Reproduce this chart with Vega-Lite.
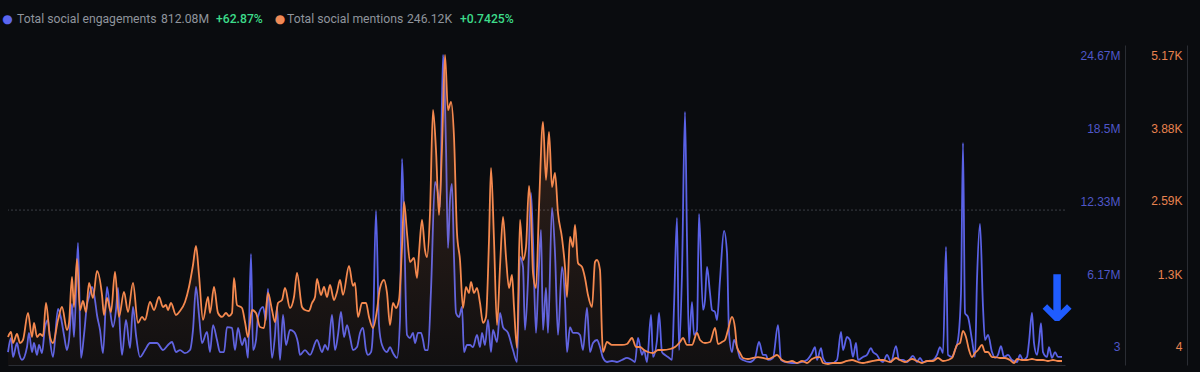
{
"$schema": "https://vega.github.io/schema/vega-lite/v6.json",
"width": 1057, "height": 320,
"autosize": "none",
"padding": {"left": 8, "top": 45, "right": 135, "bottom": 7},
"background": "#0a0c0f",
"config": {"view": {"stroke": null}, "font": "Liberation Sans"},
"datasets": {
"eng": [
{"day":0,"eng_m":1.03},{"day":3,"eng_m":2.15},{"day":5,"eng_m":0.64},{"day":9,"eng_m":1.75},{"day":11,"eng_m":0.95},{"day":14,"eng_m":0.40},{"day":19,"eng_m":1.43},{"day":21,"eng_m":2.55},{"day":24,"eng_m":1.03},{"day":26,"eng_m":1.75},{"day":29,"eng_m":0.80},{"day":31,"eng_m":1.59},{"day":34,"eng_m":0.95},{"day":37,"eng_m":3.02},{"day":40,"eng_m":3.58},{"day":42,"eng_m":1.99},{"day":45,"eng_m":0.64},{"day":50,"eng_m":4.46},{"day":53,"eng_m":3.74},{"day":56,"eng_m":2.39},{"day":59,"eng_m":1.19},{"day":61,"eng_m":1.99},{"day":64,"eng_m":4.86},{"day":66,"eng_m":2.23},{"day":70,"eng_m":9.71},{"day":73,"eng_m":0.56},{"day":76,"eng_m":2.39},{"day":79,"eng_m":4.78},{"day":81,"eng_m":5.41},{"day":84,"eng_m":6.21},{"day":87,"eng_m":5.17},{"day":89,"eng_m":3.98},{"day":92,"eng_m":2.79},{"day":95,"eng_m":0.95},{"day":99,"eng_m":6.21},{"day":102,"eng_m":4.38},{"day":105,"eng_m":3.02},{"day":108,"eng_m":4.38},{"day":110,"eng_m":6.13},{"day":112,"eng_m":2.79},{"day":114,"eng_m":0.80},{"day":118,"eng_m":3.58},{"day":122,"eng_m":1.35},{"day":125,"eng_m":4.62},{"day":128,"eng_m":2.39},{"day":132,"eng_m":0.64},{"day":137,"eng_m":1.19},{"day":142,"eng_m":1.75},{"day":149,"eng_m":1.75},{"day":155,"eng_m":1.19},{"day":160,"eng_m":1.59},{"day":164,"eng_m":1.83},{"day":168,"eng_m":1.03},{"day":172,"eng_m":1.19},{"day":177,"eng_m":0.95},{"day":182,"eng_m":1.19},{"day":185,"eng_m":2.79},{"day":188,"eng_m":6.21},{"day":191,"eng_m":3.98},{"day":194,"eng_m":1.75},{"day":199,"eng_m":2.63},{"day":202,"eng_m":1.03},{"day":205,"eng_m":3.18},{"day":209,"eng_m":1.99},{"day":212,"eng_m":1.03},{"day":216,"eng_m":1.03},{"day":219,"eng_m":3.02},{"day":224,"eng_m":2.95},{"day":227,"eng_m":1.19},{"day":230,"eng_m":2.95},{"day":234,"eng_m":1.59},{"day":237,"eng_m":2.15},{"day":240,"eng_m":0.56},{"day":243,"eng_m":8.84},{"day":245,"eng_m":1.19},{"day":248,"eng_m":1.99},{"day":250,"eng_m":3.82},{"day":255,"eng_m":4.62},{"day":258,"eng_m":3.58},{"day":260,"eng_m":6.05},{"day":264,"eng_m":0.56},{"day":267,"eng_m":2.39},{"day":269,"eng_m":4.62},{"day":272,"eng_m":0.40},{"day":275,"eng_m":3.98},{"day":278,"eng_m":1.59},{"day":282,"eng_m":2.79},{"day":286,"eng_m":2.63},{"day":290,"eng_m":1.75},{"day":292,"eng_m":0.80},{"day":297,"eng_m":1.19},{"day":302,"eng_m":0.80},{"day":309,"eng_m":1.99},{"day":314,"eng_m":1.03},{"day":317,"eng_m":1.59},{"day":320,"eng_m":1.19},{"day":324,"eng_m":3.98},{"day":327,"eng_m":1.19},{"day":330,"eng_m":2.39},{"day":333,"eng_m":4.22},{"day":336,"eng_m":2.23},{"day":339,"eng_m":3.18},{"day":342,"eng_m":2.23},{"day":345,"eng_m":1.19},{"day":349,"eng_m":1.43},{"day":352,"eng_m":2.55},{"day":355,"eng_m":2.95},{"day":358,"eng_m":1.19},{"day":360,"eng_m":0.80},{"day":363,"eng_m":1.03},{"day":365,"eng_m":2.79},{"day":368,"eng_m":12.26},{"day":371,"eng_m":3.18},{"day":374,"eng_m":1.59},{"day":379,"eng_m":1.03},{"day":382,"eng_m":1.43},{"day":385,"eng_m":0.95},{"day":389,"eng_m":0.56},{"day":392,"eng_m":3.58},{"day":394,"eng_m":16.40},{"day":396,"eng_m":11.54},{"day":399,"eng_m":2.39},{"day":402,"eng_m":2.15},{"day":405,"eng_m":2.55},{"day":407,"eng_m":1.75},{"day":410,"eng_m":2.55},{"day":413,"eng_m":2.55},{"day":415,"eng_m":1.99},{"day":417,"eng_m":1.19},{"day":420,"eng_m":1.19},{"day":423,"eng_m":5.97},{"day":427,"eng_m":14.57},{"day":430,"eng_m":13.69},{"day":432,"eng_m":12.58},{"day":435,"eng_m":24.67},{"day":438,"eng_m":17.35},{"day":440,"eng_m":9.31},{"day":442,"eng_m":13.13},{"day":444,"eng_m":14.41},{"day":446,"eng_m":8.60},{"day":448,"eng_m":4.14},{"day":451,"eng_m":3.82},{"day":454,"eng_m":4.62},{"day":456,"eng_m":1.03},{"day":459,"eng_m":1.59},{"day":462,"eng_m":1.59},{"day":465,"eng_m":1.43},{"day":469,"eng_m":2.39},{"day":472,"eng_m":1.43},{"day":474,"eng_m":2.55},{"day":477,"eng_m":1.59},{"day":480,"eng_m":3.58},{"day":483,"eng_m":1.03},{"day":485,"eng_m":2.79},{"day":489,"eng_m":1.83},{"day":492,"eng_m":4.14},{"day":495,"eng_m":3.02},{"day":500,"eng_m":2.55},{"day":505,"eng_m":1.19},{"day":509,"eng_m":0.24},{"day":512,"eng_m":8.60},{"day":515,"eng_m":7.80},{"day":517,"eng_m":2.79},{"day":520,"eng_m":6.77},{"day":523,"eng_m":13.69},{"day":525,"eng_m":9.95},{"day":528,"eng_m":2.55},{"day":530,"eng_m":5.97},{"day":533,"eng_m":10.75},{"day":535,"eng_m":2.79},{"day":538,"eng_m":6.13},{"day":540,"eng_m":2.55},{"day":544,"eng_m":12.50},{"day":547,"eng_m":8.92},{"day":550,"eng_m":2.39},{"day":554,"eng_m":7.80},{"day":557,"eng_m":5.17},{"day":559,"eng_m":1.03},{"day":562,"eng_m":3.02},{"day":565,"eng_m":2.55},{"day":569,"eng_m":2.55},{"day":572,"eng_m":2.39},{"day":575,"eng_m":1.19},{"day":579,"eng_m":4.54},{"day":582,"eng_m":1.03},{"day":585,"eng_m":1.75},{"day":589,"eng_m":1.99},{"day":592,"eng_m":1.43},{"day":595,"eng_m":0.56},{"day":599,"eng_m":0.24},{"day":604,"eng_m":0.32},{"day":609,"eng_m":0.24},{"day":614,"eng_m":0.40},{"day":619,"eng_m":0.56},{"day":624,"eng_m":0.40},{"day":627,"eng_m":0.24},{"day":630,"eng_m":2.15},{"day":634,"eng_m":0.80},{"day":636,"eng_m":1.19},{"day":639,"eng_m":0.24},{"day":643,"eng_m":3.98},{"day":645,"eng_m":0.64},{"day":649,"eng_m":1.99},{"day":651,"eng_m":4.14},{"day":654,"eng_m":1.03},{"day":657,"eng_m":0.80},{"day":660,"eng_m":0.64},{"day":664,"eng_m":0.40},{"day":666,"eng_m":4.62},{"day":669,"eng_m":11.70},{"day":671,"eng_m":1.19},{"day":674,"eng_m":7.32},{"day":677,"eng_m":20.14},{"day":679,"eng_m":9.95},{"day":681,"eng_m":1.75},{"day":684,"eng_m":5.01},{"day":686,"eng_m":2.39},{"day":689,"eng_m":2.79},{"day":691,"eng_m":12.02},{"day":695,"eng_m":4.38},{"day":697,"eng_m":5.17},{"day":699,"eng_m":7.80},{"day":702,"eng_m":5.73},{"day":704,"eng_m":4.38},{"day":707,"eng_m":4.22},{"day":709,"eng_m":3.58},{"day":712,"eng_m":6.77},{"day":716,"eng_m":10.67},{"day":719,"eng_m":8.92},{"day":721,"eng_m":2.55},{"day":724,"eng_m":1.03},{"day":726,"eng_m":1.99},{"day":729,"eng_m":1.43},{"day":732,"eng_m":0.56},{"day":735,"eng_m":0.40},{"day":742,"eng_m":0.24},{"day":747,"eng_m":0.56},{"day":751,"eng_m":1.83},{"day":755,"eng_m":0.80},{"day":758,"eng_m":0.80},{"day":760,"eng_m":0.40},{"day":765,"eng_m":0.56},{"day":770,"eng_m":3.18},{"day":773,"eng_m":0.40},{"day":777,"eng_m":0.24},{"day":784,"eng_m":0.16},{"day":789,"eng_m":0.16},{"day":794,"eng_m":0.24},{"day":799,"eng_m":0.40},{"day":804,"eng_m":0.95},{"day":807,"eng_m":1.43},{"day":809,"eng_m":0.40},{"day":813,"eng_m":1.35},{"day":815,"eng_m":0.56},{"day":819,"eng_m":0.16},{"day":824,"eng_m":0.16},{"day":829,"eng_m":0.40},{"day":833,"eng_m":2.63},{"day":835,"eng_m":1.19},{"day":839,"eng_m":2.23},{"day":842,"eng_m":1.99},{"day":845,"eng_m":0.64},{"day":848,"eng_m":1.75},{"day":850,"eng_m":0.40},{"day":855,"eng_m":0.64},{"day":859,"eng_m":0.80},{"day":863,"eng_m":1.35},{"day":865,"eng_m":1.03},{"day":869,"eng_m":0.80},{"day":872,"eng_m":0.40},{"day":875,"eng_m":0.24},{"day":879,"eng_m":0.80},{"day":883,"eng_m":0.24},{"day":888,"eng_m":1.51},{"day":891,"eng_m":0.40},{"day":895,"eng_m":0.40},{"day":899,"eng_m":0.24},{"day":905,"eng_m":0.72},{"day":909,"eng_m":0.24},{"day":912,"eng_m":0.56},{"day":915,"eng_m":0.24},{"day":920,"eng_m":0.32},{"day":925,"eng_m":0.40},{"day":929,"eng_m":0.80},{"day":932,"eng_m":1.43},{"day":935,"eng_m":0.95},{"day":938,"eng_m":9.39},{"day":940,"eng_m":0.80},{"day":944,"eng_m":0.64},{"day":947,"eng_m":1.19},{"day":950,"eng_m":1.99},{"day":953,"eng_m":5.73},{"day":955,"eng_m":17.67},{"day":957,"eng_m":4.14},{"day":960,"eng_m":3.82},{"day":964,"eng_m":1.99},{"day":967,"eng_m":0.64},{"day":969,"eng_m":6.77},{"day":972,"eng_m":11.22},{"day":975,"eng_m":4.62},{"day":977,"eng_m":1.99},{"day":980,"eng_m":2.39},{"day":984,"eng_m":1.03},{"day":987,"eng_m":0.56},{"day":990,"eng_m":0.80},{"day":993,"eng_m":1.51},{"day":996,"eng_m":0.64},{"day":1000,"eng_m":0.80},{"day":1004,"eng_m":0.40},{"day":1009,"eng_m":0.24},{"day":1012,"eng_m":0.80},{"day":1015,"eng_m":0.40},{"day":1019,"eng_m":0.64},{"day":1021,"eng_m":1.83},{"day":1024,"eng_m":4.14},{"day":1026,"eng_m":1.75},{"day":1029,"eng_m":0.80},{"day":1031,"eng_m":1.83},{"day":1033,"eng_m":3.34},{"day":1035,"eng_m":1.03},{"day":1039,"eng_m":0.64},{"day":1041,"eng_m":1.43},{"day":1044,"eng_m":0.56},{"day":1047,"eng_m":1.03},{"day":1050,"eng_m":0.64},{"day":1054,"eng_m":0.64}
],
"men": [
{"day":0,"mentions":467},{"day":3,"mentions":550},{"day":5,"mentions":367},{"day":9,"mentions":517},{"day":12,"mentions":367},{"day":15,"mentions":417},{"day":20,"mentions":867},{"day":24,"mentions":467},{"day":26,"mentions":701},{"day":29,"mentions":467},{"day":32,"mentions":517},{"day":35,"mentions":484},{"day":38,"mentions":1034},{"day":42,"mentions":467},{"day":45,"mentions":367},{"day":50,"mentions":751},{"day":54,"mentions":967},{"day":59,"mentions":584},{"day":61,"mentions":701},{"day":64,"mentions":1468},{"day":66,"mentions":967},{"day":69,"mentions":1768},{"day":72,"mentions":917},{"day":75,"mentions":1068},{"day":78,"mentions":884},{"day":81,"mentions":1368},{"day":85,"mentions":1118},{"day":89,"mentions":1568},{"day":94,"mentions":1168},{"day":96,"mentions":834},{"day":99,"mentions":1118},{"day":103,"mentions":884},{"day":107,"mentions":1551},{"day":111,"mentions":801},{"day":116,"mentions":1218},{"day":120,"mentions":884},{"day":125,"mentions":1368},{"day":130,"mentions":701},{"day":134,"mentions":801},{"day":137,"mentions":751},{"day":142,"mentions":1051},{"day":146,"mentions":917},{"day":151,"mentions":1134},{"day":155,"mentions":967},{"day":158,"mentions":1001},{"day":160,"mentions":917},{"day":163,"mentions":1034},{"day":168,"mentions":834},{"day":172,"mentions":901},{"day":177,"mentions":1051},{"day":181,"mentions":1301},{"day":185,"mentions":1668},{"day":188,"mentions":1985},{"day":191,"mentions":1501},{"day":195,"mentions":751},{"day":200,"mentions":1134},{"day":202,"mentions":867},{"day":206,"mentions":1301},{"day":210,"mentions":867},{"day":214,"mentions":801},{"day":218,"mentions":867},{"day":221,"mentions":817},{"day":224,"mentions":867},{"day":226,"mentions":1451},{"day":229,"mentions":1001},{"day":234,"mentions":951},{"day":237,"mentions":717},{"day":240,"mentions":467},{"day":244,"mentions":917},{"day":248,"mentions":867},{"day":252,"mentions":634},{"day":256,"mentions":617},{"day":260,"mentions":1201},{"day":264,"mentions":917},{"day":267,"mentions":717},{"day":270,"mentions":1034},{"day":274,"mentions":1084},{"day":277,"mentions":1284},{"day":282,"mentions":951},{"day":286,"mentions":1134},{"day":289,"mentions":1535},{"day":294,"mentions":967},{"day":297,"mentions":917},{"day":301,"mentions":901},{"day":304,"mentions":1034},{"day":307,"mentions":1134},{"day":309,"mentions":1434},{"day":313,"mentions":1168},{"day":316,"mentions":1301},{"day":319,"mentions":1134},{"day":322,"mentions":1334},{"day":326,"mentions":1084},{"day":329,"mentions":1218},{"day":332,"mentions":1418},{"day":335,"mentions":1168},{"day":341,"mentions":1651},{"day":345,"mentions":1318},{"day":347,"mentions":1368},{"day":350,"mentions":801},{"day":354,"mentions":1034},{"day":358,"mentions":1034},{"day":361,"mentions":801},{"day":365,"mentions":617},{"day":369,"mentions":917},{"day":372,"mentions":1284},{"day":376,"mentions":1418},{"day":379,"mentions":1201},{"day":382,"mentions":667},{"day":385,"mentions":1034},{"day":388,"mentions":951},{"day":391,"mentions":1084},{"day":394,"mentions":1968},{"day":396,"mentions":2719},{"day":399,"mentions":2202},{"day":402,"mentions":1718},{"day":406,"mentions":1785},{"day":409,"mentions":1451},{"day":411,"mentions":1868},{"day":414,"mentions":2419},{"day":417,"mentions":1918},{"day":419,"mentions":1801},{"day":422,"mentions":2535},{"day":425,"mentions":4253},{"day":428,"mentions":3586},{"day":431,"mentions":2502},{"day":434,"mentions":3636},{"day":437,"mentions":5170},{"day":440,"mentions":4253},{"day":443,"mentions":4387},{"day":446,"mentions":3803},{"day":449,"mentions":2202},{"day":452,"mentions":1751},{"day":455,"mentions":951},{"day":458,"mentions":1301},{"day":461,"mentions":1201},{"day":463,"mentions":1384},{"day":466,"mentions":1201},{"day":469,"mentions":1284},{"day":472,"mentions":1034},{"day":475,"mentions":701},{"day":478,"mentions":801},{"day":481,"mentions":2085},{"day":483,"mentions":3286},{"day":486,"mentions":2085},{"day":489,"mentions":667},{"day":492,"mentions":1635},{"day":495,"mentions":2469},{"day":498,"mentions":1801},{"day":501,"mentions":1284},{"day":504,"mentions":1501},{"day":506,"mentions":967},{"day":509,"mentions":284},{"day":512,"mentions":2419},{"day":515,"mentions":1751},{"day":518,"mentions":1968},{"day":521,"mentions":2986},{"day":523,"mentions":2535},{"day":525,"mentions":1535},{"day":528,"mentions":1284},{"day":531,"mentions":2635},{"day":535,"mentions":4053},{"day":538,"mentions":3086},{"day":541,"mentions":3886},{"day":544,"mentions":2969},{"day":547,"mentions":3203},{"day":550,"mentions":2535},{"day":554,"mentions":2118},{"day":557,"mentions":1635},{"day":559,"mentions":1134},{"day":562,"mentions":2135},{"day":565,"mentions":1968},{"day":567,"mentions":2335},{"day":570,"mentions":1701},{"day":574,"mentions":1635},{"day":577,"mentions":1451},{"day":580,"mentions":1168},{"day":584,"mentions":967},{"day":587,"mentions":1718},{"day":589,"mentions":1751},{"day":592,"mentions":1585},{"day":594,"mentions":500},{"day":595,"mentions":217},{"day":599,"mentions":384},{"day":604,"mentions":334},{"day":609,"mentions":334},{"day":614,"mentions":334},{"day":619,"mentions":350},{"day":624,"mentions":450},{"day":628,"mentions":300},{"day":632,"mentions":300},{"day":636,"mentions":250},{"day":640,"mentions":217},{"day":645,"mentions":200},{"day":650,"mentions":250},{"day":655,"mentions":250},{"day":662,"mentions":267},{"day":667,"mentions":300},{"day":672,"mentions":384},{"day":675,"mentions":450},{"day":679,"mentions":334},{"day":684,"mentions":334},{"day":689,"mentions":534},{"day":692,"mentions":417},{"day":697,"mentions":367},{"day":702,"mentions":384},{"day":707,"mentions":617},{"day":710,"mentions":350},{"day":714,"mentions":384},{"day":717,"mentions":417},{"day":720,"mentions":584},{"day":724,"mentions":801},{"day":727,"mentions":617},{"day":729,"mentions":300},{"day":732,"mentions":200},{"day":735,"mentions":117},{"day":740,"mentions":100},{"day":745,"mentions":117},{"day":750,"mentions":133},{"day":755,"mentions":117},{"day":760,"mentions":100},{"day":765,"mentions":133},{"day":769,"mentions":167},{"day":774,"mentions":83},{"day":779,"mentions":50},{"day":784,"mentions":67},{"day":789,"mentions":33},{"day":794,"mentions":67},{"day":799,"mentions":33},{"day":804,"mentions":100},{"day":809,"mentions":133},{"day":812,"mentions":133},{"day":815,"mentions":33},{"day":820,"mentions":17},{"day":825,"mentions":33},{"day":832,"mentions":33},{"day":839,"mentions":67},{"day":844,"mentions":83},{"day":850,"mentions":50},{"day":855,"mentions":33},{"day":860,"mentions":50},{"day":865,"mentions":67},{"day":870,"mentions":83},{"day":875,"mentions":83},{"day":882,"mentions":50},{"day":888,"mentions":117},{"day":892,"mentions":83},{"day":897,"mentions":50},{"day":904,"mentions":100},{"day":909,"mentions":67},{"day":914,"mentions":33},{"day":919,"mentions":67},{"day":925,"mentions":67},{"day":930,"mentions":117},{"day":935,"mentions":67},{"day":940,"mentions":83},{"day":944,"mentions":117},{"day":949,"mentions":334},{"day":952,"mentions":367},{"day":955,"mentions":567},{"day":958,"mentions":467},{"day":961,"mentions":250},{"day":964,"mentions":133},{"day":967,"mentions":200},{"day":970,"mentions":250},{"day":974,"mentions":334},{"day":977,"mentions":217},{"day":980,"mentions":217},{"day":984,"mentions":133},{"day":987,"mentions":133},{"day":992,"mentions":117},{"day":997,"mentions":117},{"day":1002,"mentions":83},{"day":1006,"mentions":33},{"day":1009,"mentions":100},{"day":1014,"mentions":83},{"day":1019,"mentions":83},{"day":1024,"mentions":100},{"day":1029,"mentions":83},{"day":1035,"mentions":83},{"day":1040,"mentions":67},{"day":1045,"mentions":83},{"day":1050,"mentions":67},{"day":1054,"mentions":67}
]
},
"layer": [
{
"data": {"name": "eng"},
"layer": [
{
"data": {"values": [{"v": 12.33}]},
"mark": {"type": "rule", "color": "#3c3f46", "strokeWidth": 1, "strokeDash": [2, 2]},
"encoding": {"y": {"field": "v", "type": "quantitative"}}
},
{
"mark": {"type": "line", "color": "#5a62e6", "strokeWidth": 1.8, "interpolate": "monotone"},
"encoding": {
"x": {"field": "day", "type": "quantitative", "scale": {"domain": [0, 1057], "nice": false, "zero": false}, "axis": {"orient": "bottom", "domain": true, "domainColor": "#2a2d33", "labels": false, "ticks": false, "grid": false, "title": null}},
"y": {"field": "eng_m", "type": "quantitative"}
}
},
{
"data": {"values": [{"label": "●"}]},
"mark": {"type": "text", "color": "#5b66f0", "font": "DejaVu Sans", "fontSize": 12, "align": "center", "baseline": "middle", "dx": -0.5, "dy": -26},
"encoding": {"x": {"datum": 0, "type": "quantitative"}, "y": {"datum": 25.466, "type": "quantitative"}, "text": {"field": "label"}}
},
{
"data": {"values": [{"label": "Total social engagements"}]},
"mark": {"type": "text", "color": "#8f949c", "font": "Roboto", "fontSize": 12.2, "align": "left", "baseline": "middle", "dx": 9, "dy": -26},
"encoding": {"x": {"datum": 0, "type": "quantitative"}, "y": {"datum": 25.466, "type": "quantitative"}, "text": {"field": "label"}}
},
{
"data": {"values": [{"label": "812.08M"}]},
"mark": {"type": "text", "color": "#8f949c", "font": "Roboto", "fontSize": 12.2, "align": "left", "baseline": "middle", "dx": 153, "dy": -26},
"encoding": {"x": {"datum": 0, "type": "quantitative"}, "y": {"datum": 25.466, "type": "quantitative"}, "text": {"field": "label"}}
},
{
"data": {"values": [{"label": "+62.87%"}]},
"mark": {"type": "text", "color": "#3ddc8a", "font": "Roboto", "fontWeight": 500, "fontSize": 12.2, "align": "left", "baseline": "middle", "dx": 208, "dy": -26},
"encoding": {"x": {"datum": 0, "type": "quantitative"}, "y": {"datum": 25.466, "type": "quantitative"}, "text": {"field": "label"}}
},
{
"data": {"values": [{"label": "●"}]},
"mark": {"type": "text", "color": "#f08a56", "font": "DejaVu Sans", "fontSize": 12, "align": "center", "baseline": "middle", "dx": 272, "dy": -26},
"encoding": {"x": {"datum": 0, "type": "quantitative"}, "y": {"datum": 25.466, "type": "quantitative"}, "text": {"field": "label"}}
},
{
"data": {"values": [{"label": "Total social mentions"}]},
"mark": {"type": "text", "color": "#8f949c", "font": "Roboto", "fontSize": 12.2, "align": "left", "baseline": "middle", "dx": 279, "dy": -26},
"encoding": {"x": {"datum": 0, "type": "quantitative"}, "y": {"datum": 25.466, "type": "quantitative"}, "text": {"field": "label"}}
},
{
"data": {"values": [{"label": "246.12K"}]},
"mark": {"type": "text", "color": "#8f949c", "font": "Roboto", "fontSize": 12.2, "align": "left", "baseline": "middle", "dx": 399, "dy": -26},
"encoding": {"x": {"datum": 0, "type": "quantitative"}, "y": {"datum": 25.466, "type": "quantitative"}, "text": {"field": "label"}}
},
{
"data": {"values": [{"label": "+0.7425%"}]},
"mark": {"type": "text", "color": "#3ddc8a", "font": "Roboto", "fontWeight": 500, "fontSize": 12.2, "align": "left", "baseline": "middle", "dx": 452, "dy": -26},
"encoding": {"x": {"datum": 0, "type": "quantitative"}, "y": {"datum": 25.466, "type": "quantitative"}, "text": {"field": "label"}}
},
{
"data": {"values": [{"label": "↓"}]},
"mark": {"type": "text", "color": "#1f5cff", "font": "DejaVu Sans", "fontWeight": "bold", "fontSize": 64, "align": "center", "baseline": "middle"},
"encoding": {"x": {"datum": 1049, "type": "quantitative"}, "y": {"datum": 5.0, "type": "quantitative"}, "text": {"field": "label"}}
}
],
"encoding": {
"y": {"type": "quantitative", "scale": {"domain": [0, 25.466], "nice": false},
"axis": {"orient": "right", "offset": 60, "values": [0.000003, 6.17, 12.33, 18.5, 24.67], "labelExpr": "datum.value < 0.001 ? '3' : datum.value + 'M'", "labelAlign": "right", "labelPadding": -5, "ticks": false, "tickSize": 0, "grid": false, "domain": true, "domainColor": "#2a2d33", "labelColor": "#4f57c8", "labelFont": "Liberation Sans", "labelFontSize": 12, "labelBaseline": "middle", "title": null,
"labelOffset": {"condition": [{"test": "datum.value < 1", "value": -18}, {"test": "datum.value < 7", "value": -13}, {"test": "datum.value < 13", "value": -9}, {"test": "datum.value < 19", "value": -4}], "value": 0}}}
}
},
{
"data": {"name": "men"},
"encoding": {
"x": {"field": "day", "type": "quantitative", "scale": {"domain": [0, 1057], "nice": false, "zero": false}, "axis": {"orient": "bottom", "domain": true, "domainColor": "#2a2d33", "labels": false, "ticks": false, "grid": false, "title": null}},
"y": {"field": "mentions", "type": "quantitative", "scale": {"domain": [0, 5336.8], "nice": false},
"axis": {"orient": "right", "offset": 122, "values": [4, 1295.5, 2587, 3878.5, 5170], "labelExpr": "datum.value < 10 ? '4' : format(datum.value / 1000, '.3~r') + 'K'", "labelAlign": "right", "labelPadding": -5, "ticks": false, "tickSize": 0, "grid": false, "domain": true, "domainColor": "#2a2d33", "labelColor": "#e8834f", "labelFont": "Liberation Sans", "labelFontSize": 12, "labelBaseline": "middle", "title": null,
"labelOffset": {"condition": [{"test": "datum.value < 10", "value": -18}, {"test": "datum.value < 1300", "value": -13}, {"test": "datum.value < 2600", "value": -9}, {"test": "datum.value < 3900", "value": -4}], "value": 0}}}
},
"layer": [
{
"mark": {"type": "area", "interpolate": "monotone", "color": {"gradient": "linear", "x1": 0, "y1": 0, "x2": 0, "y2": 1, "stops": [{"offset": 0, "color": "rgba(245,137,79,0.20)"}, {"offset": 1, "color": "rgba(245,137,79,0.03)"}]}}
},
{
"mark": {"type": "line", "color": "#f5894f", "strokeWidth": 1.8, "interpolate": "monotone"}
}
]
}
],
"resolve": {"scale": {"y": "independent"}}
}
